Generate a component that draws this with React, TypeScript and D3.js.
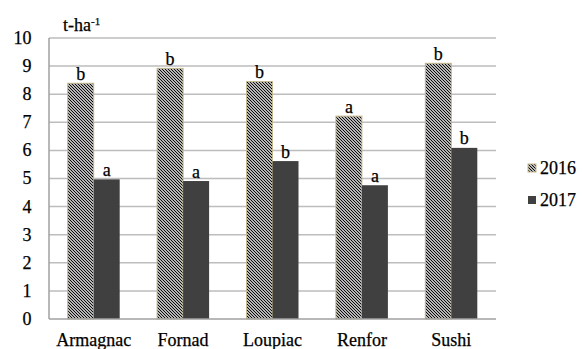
import React from "react";
import * as d3 from "d3";

const categories = ["Armagnac", "Fornad", "Loupiac", "Renfor", "Sushi"];
const series = ["2016", "2017"];
const values2016 = [8.39, 8.92, 8.45, 7.22, 9.1];
const values2017 = [4.97, 4.91, 5.62, 4.76, 6.09];
const letters2016 = ["b", "b", "b", "a", "b"];
const letters2017 = ["a", "a", "b", "a", "b"];
const yTicks = [0, 1, 2, 3, 4, 5, 6, 7, 8, 9, 10];

const W = 583;
const H = 349;
const left = 49;
const right = 496;
const top = 38;
const bottom = 319;
const font = "Liberation Serif, DejaVu Serif, serif";
const fs = 18;

export default function App() {
  const x = d3.scaleBand<string>().domain(categories).range([left, right]).paddingInner(0).paddingOuter(0);
  const inner = d3.scaleBand<string>().domain(series).range([0, 52]);
  const y = d3.scaleLinear().domain([0, 10]).range([bottom, top]);
  const offset = (x.bandwidth() - 52) / 2;
  const data = [values2016, values2017];
  const letters = [letters2016, letters2017];
  const ts = { fontFamily: font, stroke: "#000", strokeWidth: 0.25 } as React.CSSProperties;

  return (
    <svg width={W} height={H} style={{ position: "absolute", left: 0, top: 0, background: "#fff" }}>
      <defs>
        <pattern id="hatch" patternUnits="userSpaceOnUse" width="3" height="3">
          <rect width="3" height="3" fill="#fff" />
          <path d="M-1,-1 L4,4 M-1,2 L1,4 M2,-1 L4,1" stroke="#000" strokeWidth="1.1" />
        </pattern>
      </defs>
      {yTicks.map((t) => (
        <g key={t}>
          {t > 0 && <line x1={left} x2={right} y1={y(t)} y2={y(t)} stroke="#bdbdbd" strokeWidth={1.5} />}
          <text x={31.5} y={y(t)} dy="0.33em" textAnchor="end" style={ts} fontSize={fs} fill="#000">
            {t}
          </text>
        </g>
      ))}
      <line x1={left} x2={left} y1={top} y2={bottom} stroke="#a0a0a0" strokeWidth={1.5} />
      {categories.map((c, i) => (
        <g key={c}>
          {series.map((s, j) => {
            const bx = (x(c) as number) + offset + (inner(s) as number);
            const v = data[j][i];
            return (
              <g key={s}>
                <rect
                  x={bx}
                  y={y(v)}
                  width={inner.bandwidth()}
                  height={bottom - y(v)}
                  fill={j === 0 ? "url(#hatch)" : "#404040"}
                  stroke={j === 0 ? "#c4b98c" : "none"}
                  strokeWidth={1}
                />
                <text
                  x={bx + inner.bandwidth() / 2}
                  y={y(v) - 3.5}
                  textAnchor="middle"
                  style={ts}
                  fontSize={fs}
                  fill="#000"
                >
                  {letters[j][i]}
                </text>
              </g>
            );
          })}
          <text
            x={(x(c) as number) + x.bandwidth() / 2}
            y={346}
            textAnchor="middle"
            style={ts}
            fontSize={fs}
            fill="#000"
          >
            {c}
          </text>
        </g>
      ))}
      <line x1={left} x2={right} y1={bottom} y2={bottom} stroke="#a0a0a0" strokeWidth={1.5} />
      <text x={63} y={30.5} style={ts} fontSize={fs} fill="#000">
        t-ha<tspan dy={-6} fontSize={11}>-1</tspan>
      </text>
      {series.map((s, j) => (
        <g key={s} transform={`translate(528, ${j === 0 ? 164 : 196})`}>
          <rect
            width={8}
            height={8}
            fill={j === 0 ? "url(#hatch)" : "#404040"}
            stroke={j === 0 ? "#c4b98c" : "none"}
          />
          <text x={12} y={4} dy="0.35em" style={ts} fontSize={fs} fill="#000">
            {s}
          </text>
        </g>
      ))}
    </svg>
  );
}
